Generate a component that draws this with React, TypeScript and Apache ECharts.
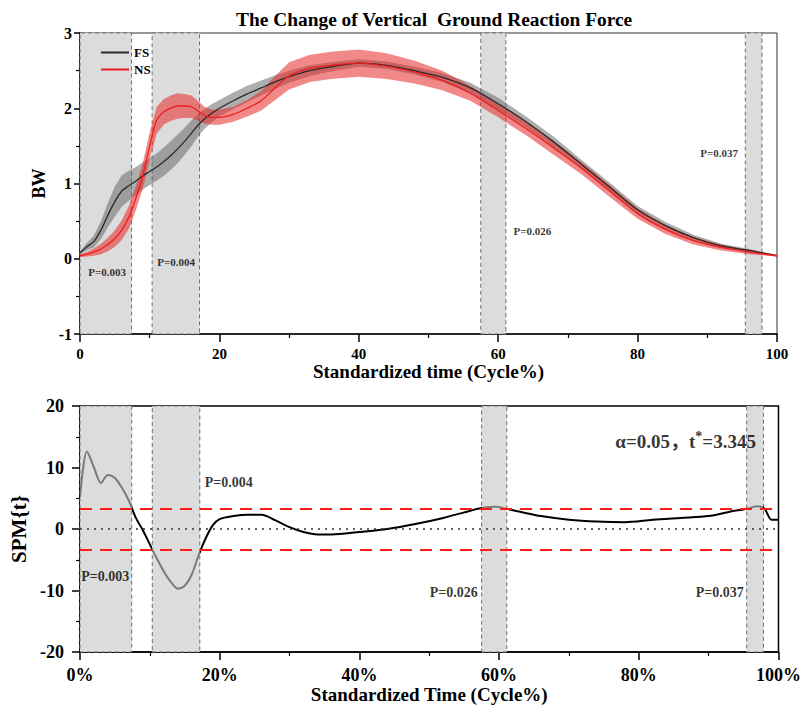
import React, { useEffect, useRef } from 'react';
import * as echarts from 'echarts';

const FONT = "'Liberation Serif', 'Times New Roman', serif";
const FONT_CJK = "'Liberation Serif', 'Noto Sans CJK SC', serif";

// ---------- Top chart: vertical GRF (BW) ----------
const timeX = [0, 1, 2, 3, 4, 5, 6, 7, 8, 9, 10, 11, 12, 13, 14, 15, 16, 17, 18, 19, 20, 22, 24, 26, 28, 30, 33, 36, 40, 44, 48, 52, 56, 60, 64, 68, 72, 76, 80, 84, 88, 92, 96, 100];
const fsMean = [0.08, 0.16, 0.23, 0.38, 0.58, 0.76, 0.9, 0.97, 1.03, 1.1, 1.16, 1.22, 1.29, 1.37, 1.46, 1.56, 1.67, 1.78, 1.87, 1.94, 2.0, 2.1, 2.19, 2.27, 2.35, 2.42, 2.5, 2.55, 2.6, 2.57, 2.5, 2.41, 2.27, 2.06, 1.82, 1.55, 1.25, 0.95, 0.65, 0.44, 0.28, 0.17, 0.11, 0.04];
const fsHalf = [0.02, 0.05, 0.08, 0.12, 0.16, 0.2, 0.21, 0.2, 0.19, 0.18, 0.18, 0.18, 0.19, 0.19, 0.19, 0.18, 0.17, 0.15, 0.13, 0.12, 0.11, 0.11, 0.11, 0.1, 0.09, 0.08, 0.07, 0.06, 0.05, 0.05, 0.05, 0.06, 0.07, 0.08, 0.07, 0.07, 0.06, 0.06, 0.05, 0.05, 0.04, 0.03, 0.02, 0.01];
const nsMean = [0.04, 0.06, 0.09, 0.13, 0.19, 0.27, 0.38, 0.55, 0.8, 1.1, 1.5, 1.84, 1.95, 2.0, 2.03, 2.03, 2.02, 1.96, 1.9, 1.88, 1.88, 1.92, 2.0, 2.1, 2.27, 2.43, 2.53, 2.57, 2.6, 2.56, 2.48, 2.37, 2.2, 1.97, 1.73, 1.47, 1.2, 0.9, 0.6, 0.39, 0.24, 0.15, 0.09, 0.04];
const nsHalf = [0.02, 0.03, 0.05, 0.07, 0.09, 0.11, 0.13, 0.15, 0.16, 0.17, 0.18, 0.18, 0.17, 0.17, 0.17, 0.16, 0.15, 0.13, 0.11, 0.1, 0.1, 0.1, 0.11, 0.13, 0.16, 0.18, 0.18, 0.18, 0.18, 0.17, 0.15, 0.13, 0.1, 0.09, 0.09, 0.09, 0.08, 0.08, 0.07, 0.06, 0.05, 0.04, 0.03, 0.01];

// ---------- Bottom chart: SPM{t} ----------
const spmX = [0, 1, 2, 3, 4, 5, 6, 7, 8, 9, 10, 11, 12, 13, 14, 15, 16, 17, 18, 19, 20, 22, 24, 26, 28, 30, 32, 34, 36, 40, 44, 48, 52, 55, 57.5, 59.5, 61, 63, 66, 70, 74, 78, 82, 86, 90, 93, 95.5, 97, 98, 99, 100];
const spmT = [5.2, 12.6, 10.0, 7.5, 8.8, 8.3, 6.7, 4.6, 1.8, -0.2, -2.5, -4.8, -6.9, -8.6, -9.7, -9.2, -7.4, -4.2, -1.5, 0.6, 1.6, 2.1, 2.3, 2.3, 1.4, 0.3, -0.5, -0.9, -0.9, -0.5, 0.0, 0.8, 1.8, 2.7, 3.4, 3.6, 3.3, 2.8, 2.1, 1.5, 1.2, 1.1, 1.5, 1.8, 2.1, 2.8, 3.3, 3.7, 3.3, 1.5, 1.5];
const tCrit = 3.345;

// significant clusters (Cycle %)
const clusters = [[0, 7.4], [10.35, 17.15], [57.5, 61.1], [95.45, 97.85]];
const pValues = ['P=0.003', 'P=0.004', 'P=0.026', 'P=0.037'];
// label anchors in data units
const topLabelX = [3.9, 13.8, 64.9, 91.7];
const topLabelY = [-0.17, -0.04, 0.37, 1.41];
const botLabelX = [3.6, 21.3, 53.5, 91.6];
const botLabelY = [-7.8, 7.5, -10.3, -10.3];

const xTicks = { min: 0, max: 100, interval: 20 };
const topYTicks = { min: -1, max: 3, interval: 1 };
const botYTicks = { min: -20, max: 20, interval: 10 };

const bold = (size: number) => ({ fontFamily: FONT, fontWeight: 'bold' as const, fontSize: size, color: '#000' });

function axisCommon(tickLen: number) {
  return {
    axisLine: { show: true, onZero: false, lineStyle: { color: '#000', width: 1.5 } },
    axisTick: { show: true, inside: false, length: tickLen, lineStyle: { color: '#000', width: 1.5 } },
    minorTick: { show: true, splitNumber: 2, length: 4, lineStyle: { color: '#000', width: 1.2 } },
    splitLine: { show: false },
  };
}

const markAreaRegions = {
  silent: true,
  itemStyle: { color: '#dcdcdc', borderColor: '#6e6e6e', borderWidth: 1, borderType: [4, 3] },
  data: clusters.map(([a, b]) => [{ xAxis: a }, { xAxis: b }]),
};

function bandSeries(name: string, mean: number[], half: number[], fill: string, z: number, withRegions: boolean) {
  const lower = mean.map((m, i) => m - half[i]);
  const upper = mean.map((m, i) => m + half[i]);
  const s: any = {
    type: 'custom',
    name,
    xAxisIndex: 0,
    yAxisIndex: 0,
    silent: true,
    clip: true,
    z,
    data: timeX.map((x, i) => [x, lower[i], upper[i]]),
    encode: { x: 0, y: [1, 2] },
    renderItem: (params: any, api: any) => {
      if (params.dataIndex !== 0) return null;
      const top = timeX.map((x, i) => api.coord([x, upper[i]]));
      const bot = timeX.map((x, i) => api.coord([x, lower[i]])).reverse();
      return {
        type: 'polygon',
        shape: { points: top.concat(bot) },
        style: { fill, stroke: 'none' },
      };
    },
  };
  if (withRegions) s.markArea = markAreaRegions;
  return s;
}

function buildOption() {
  const pieces: any[] = [];
  let prev = 0;
  clusters.forEach(([a, b]) => {
    if (a > prev) pieces.push({ gte: prev, lt: a, color: '#000' });
    pieces.push({ gte: a, lt: b, color: '#7a7a7a' });
    prev = b;
  });
  pieces.push({ gte: prev, lte: 100, color: '#000' });

  return {
    animation: false,
    backgroundColor: '#fff',
    title: {
      text: 'The Change of Vertical  Ground Reaction Force',
      left: 231,
      top: 5,
      textStyle: bold(19.4),
    },
    legend: {
      left: 96,
      top: 41,
      orient: 'vertical',
      itemWidth: 28,
      itemHeight: 2,
      itemGap: 4,
      data: [
        { name: 'FS', icon: 'rect', itemStyle: { color: '#2a2a2a' } },
        { name: 'NS', icon: 'rect', itemStyle: { color: '#ee1c1c' } },
      ],
      textStyle: bold(13),
    },
    grid: [
      { left: 80, top: 33, width: 697, height: 301, show: true, borderColor: '#333', borderWidth: 1, backgroundColor: 'transparent' },
      { left: 80, top: 406, width: 701, height: 246, show: true, borderColor: '#000', borderWidth: 1.5, backgroundColor: 'transparent' },
    ],
    xAxis: [
      {
        type: 'value', gridIndex: 0, ...xTicks, ...axisCommon(8),
        axisLabel: { ...bold(15), margin: 12 },
        name: 'Standardized time (Cycle%)', nameLocation: 'middle', nameGap: 27,
        nameTextStyle: bold(19),
      },
      {
        type: 'value', gridIndex: 1, ...xTicks, ...axisCommon(8),
        axisLabel: { ...bold(18), margin: 14, formatter: '{value}%' },
        name: 'Standardized Time (Cycle%)', nameLocation: 'middle', nameGap: 33,
        nameTextStyle: bold(19),
      },
    ],
    yAxis: [
      {
        type: 'value', gridIndex: 0, ...topYTicks, ...axisCommon(6),
        axisLabel: { ...bold(16), margin: 8 },
        name: 'BW', nameLocation: 'middle', nameGap: 31, nameTextStyle: bold(18),
      },
      {
        type: 'value', gridIndex: 1, ...botYTicks, ...axisCommon(8),
        axisLabel: { ...bold(18), margin: 16 },
        name: 'SPM{t}', nameLocation: 'middle', nameGap: 48, nameTextStyle: bold(21),
      },
    ],
    visualMap: [
      { type: 'piecewise', show: false, dimension: 0, seriesIndex: 6, pieces },
    ],
    series: [
      // 0: FS band (hosts the shaded regions)
      bandSeries('FS-band', fsMean, fsHalf, 'rgba(100,100,100,0.52)', 2, true),
      // 1: NS band
      bandSeries('NS-band', nsMean, nsHalf, 'rgba(232,40,40,0.55)', 3, false),
      // 2: FS mean
      { type: 'line', name: 'FS', xAxisIndex: 0, yAxisIndex: 0, data: timeX.map((x, i) => [x, fsMean[i]]), symbol: 'none', smooth: 0.3, z: 4, color: '#2a2a2a', lineStyle: { color: '#2a2a2a', width: 1.3 } },
      // 3: NS mean
      { type: 'line', name: 'NS', xAxisIndex: 0, yAxisIndex: 0, data: timeX.map((x, i) => [x, nsMean[i]]), symbol: 'none', smooth: 0.3, z: 5, color: '#ee1c1c', lineStyle: { color: '#ee1c1c', width: 1.3 } },
      // 4: P labels, top
      {
        type: 'scatter', name: 'P-top', xAxisIndex: 0, yAxisIndex: 0, symbolSize: 0, silent: true, z: 6,
        data: pValues.map((p, i) => ({ name: p, value: [topLabelX[i], topLabelY[i]] })),
        label: { show: true, position: 'inside', formatter: '{b}', ...bold(11) },
      },
      // 5: P labels, bottom
      {
        type: 'scatter', name: 'P-bottom', xAxisIndex: 1, yAxisIndex: 1, symbolSize: 0, silent: true, z: 6,
        data: pValues.map((p, i) => ({ name: p, value: [botLabelX[i], botLabelY[i]] })),
        label: { show: true, position: 'inside', formatter: '{b}', ...bold(14) },
      },
      // 6: SPM{t} curve
      {
        type: 'line', name: 'SPM', xAxisIndex: 1, yAxisIndex: 1, data: spmX.map((x, i) => [x, spmT[i]]),
        symbol: 'none', smooth: 0.3, z: 4, lineStyle: { width: 2 },
        markArea: markAreaRegions,
        markLine: {
          silent: true, symbol: 'none', label: { show: false },
          data: [
            { yAxis: tCrit, lineStyle: { color: '#ff1a1a', width: 2, type: [12, 8] } },
            { yAxis: -tCrit, lineStyle: { color: '#ff1a1a', width: 2, type: [12, 8] } },
            { yAxis: 0, lineStyle: { color: '#333', width: 1.5, type: [2, 5] } },
          ],
        },
      },
      // 7: alpha / critical threshold annotation
      {
        type: 'scatter', name: 'alpha', xAxisIndex: 1, yAxisIndex: 1, symbolSize: 0, silent: true, z: 6,
        data: [{ name: 'alpha', value: [86.7, 14.2] }],
        label: {
          show: true, position: 'inside',
          formatter: '{a|α=0.05，t}{s|*}{a|=' + tCrit.toFixed(3) + '}',
          rich: {
            a: { ...bold(19), fontFamily: FONT_CJK, lineHeight: 24 },
            s: { ...bold(14), lineHeight: 14, verticalAlign: 'top' },
          },
        },
      },
    ],
  };
}

export default function App() {
  const ref = useRef<HTMLDivElement>(null);
  useEffect(() => {
    if (!ref.current) return;
    const chart = echarts.init(ref.current, undefined, { renderer: 'svg' });
    chart.setOption(buildOption() as any);
    return () => chart.dispose();
  }, []);
  return <div ref={ref} style={{ position: 'fixed', left: 0, top: 0, width: 804, height: 709 }} />;
}
